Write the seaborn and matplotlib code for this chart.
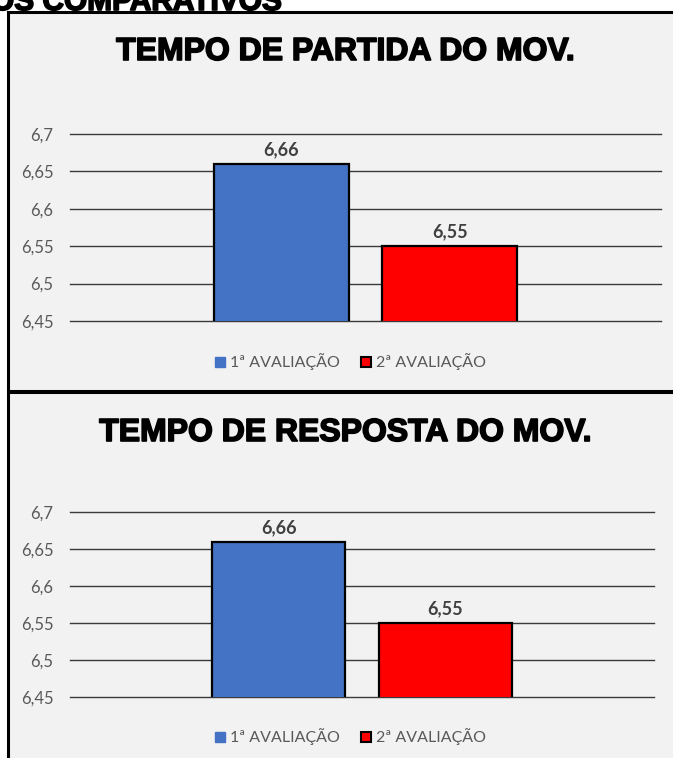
import matplotlib
matplotlib.use("Agg")
import matplotlib.pyplot as plt
import matplotlib.patheffects as pe
import seaborn as sns
import pandas as pd
from matplotlib.patches import Rectangle
from matplotlib.lines import Line2D

# Dados do gráfico
avaliacoes = ["1ª AVALIAÇÃO", "2ª AVALIAÇÃO"]
partida = [6.66, 6.55]
resposta = [6.66, 6.55]
yticks = [6.45, 6.5, 6.55, 6.6, 6.65, 6.7]
ytick_labels = ["6,45", "6,5", "6,55", "6,6", "6,65", "6,7"]
titulos = ["TEMPO DE PARTIDA DO MOV.", "TEMPO DE RESPOSTA DO MOV."]
cores = ["#4472C4", "#FF0000"]

W, H = 673, 758
fig = plt.figure(figsize=(W / 100, H / 100), dpi=100)
fig.patch.set_facecolor("white")

def px(x, y):
    # converte pixel (topo-esquerda) em fração da figura
    return x / W, 1 - y / H

# Painéis de fundo com borda
for (y0, y1) in [(12, 391), (392, 770)]:
    x0f, y0f = px(8, y1)
    fig.patches.append(Rectangle((x0f, y0f), (680 - 8) / W, (y1 - y0) / H,
                                 transform=fig.transFigure, facecolor="#F2F2F2",
                                 edgecolor="black", linewidth=2.2, zorder=0))

negrito = [pe.withStroke(linewidth=1.2, foreground="black")]

# Cabeçalho cortado no topo
fig.text(282 / W, 1 - 10 / H, "GRÁFICOS COMPARATIVOS", ha="right", va="baseline",
         fontsize=21.5, fontweight="bold", family="Liberation Sans", color="black",
         path_effects=negrito)

layout = [
    # (left, top, right, bottom, title_y, legend_y)
    (70, 134, 661, 321, 52, 362),
    (70, 512, 654, 697, 433, 737),
]

for valores, titulo, (l, t, r, b, ty, ly) in zip([partida, resposta], titulos, layout):
    df = pd.DataFrame({"grupo": ["g", "g"], "avaliacao": avaliacoes, "valor": valores})
    ax = fig.add_axes([l / W, 1 - b / H, (r - l) / W, (b - t) / H])
    ax.set_zorder(2)
    ax.set_facecolor("none")
    sns.barplot(data=df, x="grupo", y="valor", hue="avaliacao", hue_order=avaliacoes,
                palette=cores, saturation=1, width=0.57, gap=0.2, edgecolor="black",
                linewidth=1.6, ax=ax, legend=False, zorder=3)
    ax.set_ylim(6.45, 6.7)
    ax.set_xlim(-0.5, 0.5)
    ax.set_yticks(yticks)
    ax.set_yticklabels(ytick_labels, family="Lato", fontsize=12, color="#595959")
    ax.tick_params(axis="y", length=0, pad=12)
    ax.set_xticks([])
    ax.set_xlabel("")
    ax.set_ylabel("")
    for s in ax.spines.values():
        s.set_visible(False)
    ax.grid(axis="y", color="#3a3a3a", linewidth=1.0, zorder=0)
    ax.set_axisbelow(True)
    for gl in ax.get_ygridlines():
        gl.set_clip_on(False)
    for cont in ax.containers:
        ax.bar_label(cont, labels=[f"{v:.2f}".replace(".", ",") for v in cont.datavalues],
                     padding=4, family="Lato", fontsize=13, fontweight="bold", color="#404040")

    fig.text(346 / W, 1 - ty / H, titulo, ha="center", va="center", zorder=3,
             fontsize=23, fontweight="bold", family="Liberation Sans", color="black",
             path_effects=negrito)

    handles = [
        Line2D([], [], marker="s", linestyle="", markersize=7, markerfacecolor=cores[0],
               markeredgecolor=cores[0]),
        Line2D([], [], marker="s", linestyle="", markersize=7, markerfacecolor=cores[1],
               markeredgecolor="black", markeredgewidth=1.5),
    ]
    leg = fig.legend(handles, avaliacoes, loc="center", bbox_to_anchor=(349 / W, 1 - ly / H),
                     ncol=2, frameon=False, handletextpad=0.15, columnspacing=1.1,
                     handlelength=1.0, prop={"family": "Lato", "size": 11.5},
                     labelcolor="#595959")
    leg.set_zorder(3)

fig.savefig("out.png", dpi=100)
